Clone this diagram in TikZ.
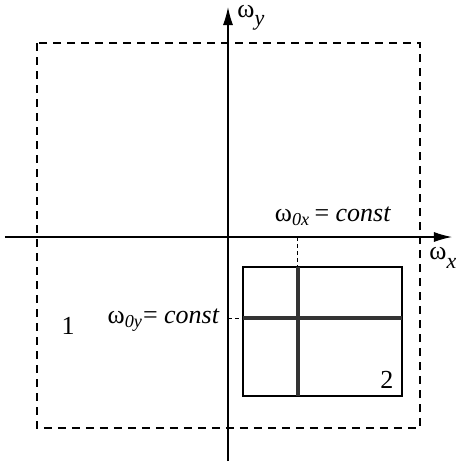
\documentclass[tikz,border=0pt]{standalone}
\usepackage{fontspec}
\setmainfont{Liberation Serif}
\usetikzlibrary{arrows.meta}

\newcommand{\lowsub}[1]{\raisebox{-0.7ex}{\fontsize{11}{13}\selectfont\textit{#1}}}

\begin{document}
\begin{tikzpicture}[x=0.5pt, y=-0.5pt,
    lbl/.style={font=\fontsize{13}{15}\selectfont, inner sep=1pt},
    axis/.style={line width=0.6pt, -{Latex[length=9pt, width=5pt]}},
    thin box/.style={line width=0.6pt},
    cut/.style={line width=1.7pt, draw=black!80},
    guide/.style={line width=0.5pt, dash pattern=on 2pt off 1.5pt}]
  \useasboundingbox (0,0) rectangle (456,463);
  % dashed square (region 1)
  \draw[line width=0.6pt, dash pattern=on 4pt off 3pt] (37,43) rectangle (420,428);
  % axes
  \coordinate (xs) at (5,237);
  \coordinate (xe) at (452,237);
  \coordinate (ys) at (228,461);
  \coordinate (ye) at (228,7);
  \draw[axis] (xs) -- (xe);
  \draw[axis] (ys) -- (ye);
  \node[lbl, anchor=west, inner sep=0pt] (wx) at (429,258) {ω\lowsub{x}};
  \node[lbl, anchor=west, inner sep=0pt] (wy) at (237,18) {ω\lowsub{y}};
  % region 2
  \coordinate (r1) at (243,267);
  \coordinate (r2) at (402,396);
  \draw[thin box] (r1) rectangle (r2);
  \coordinate (vt) at (298,267);
  \coordinate (vb) at (298,396);
  \coordinate (hl) at (243,318);
  \coordinate (hr) at (402,318);
  \draw[cut] (vt) -- (vb);
  \draw[cut] (hl) -- (hr);
  % guide lines to the axes
  \draw[guide] (298,237) -- (vt);
  \draw[guide] (228,318) -- (hl);
  % labels
  \node[lbl, anchor=south] (w0x) at (333,228) {ω\textsubscript{\textit{0x}}\,= \textit{const}};
  \node[lbl, anchor=east] (w0y) at (222,320) {ω\textsubscript{\textit{0y}}= \textit{const}};
  \node[lbl] (one) at (68,326) {1};
  \node[lbl] (two) at (387,380) {2};
\end{tikzpicture}
\end{document}
